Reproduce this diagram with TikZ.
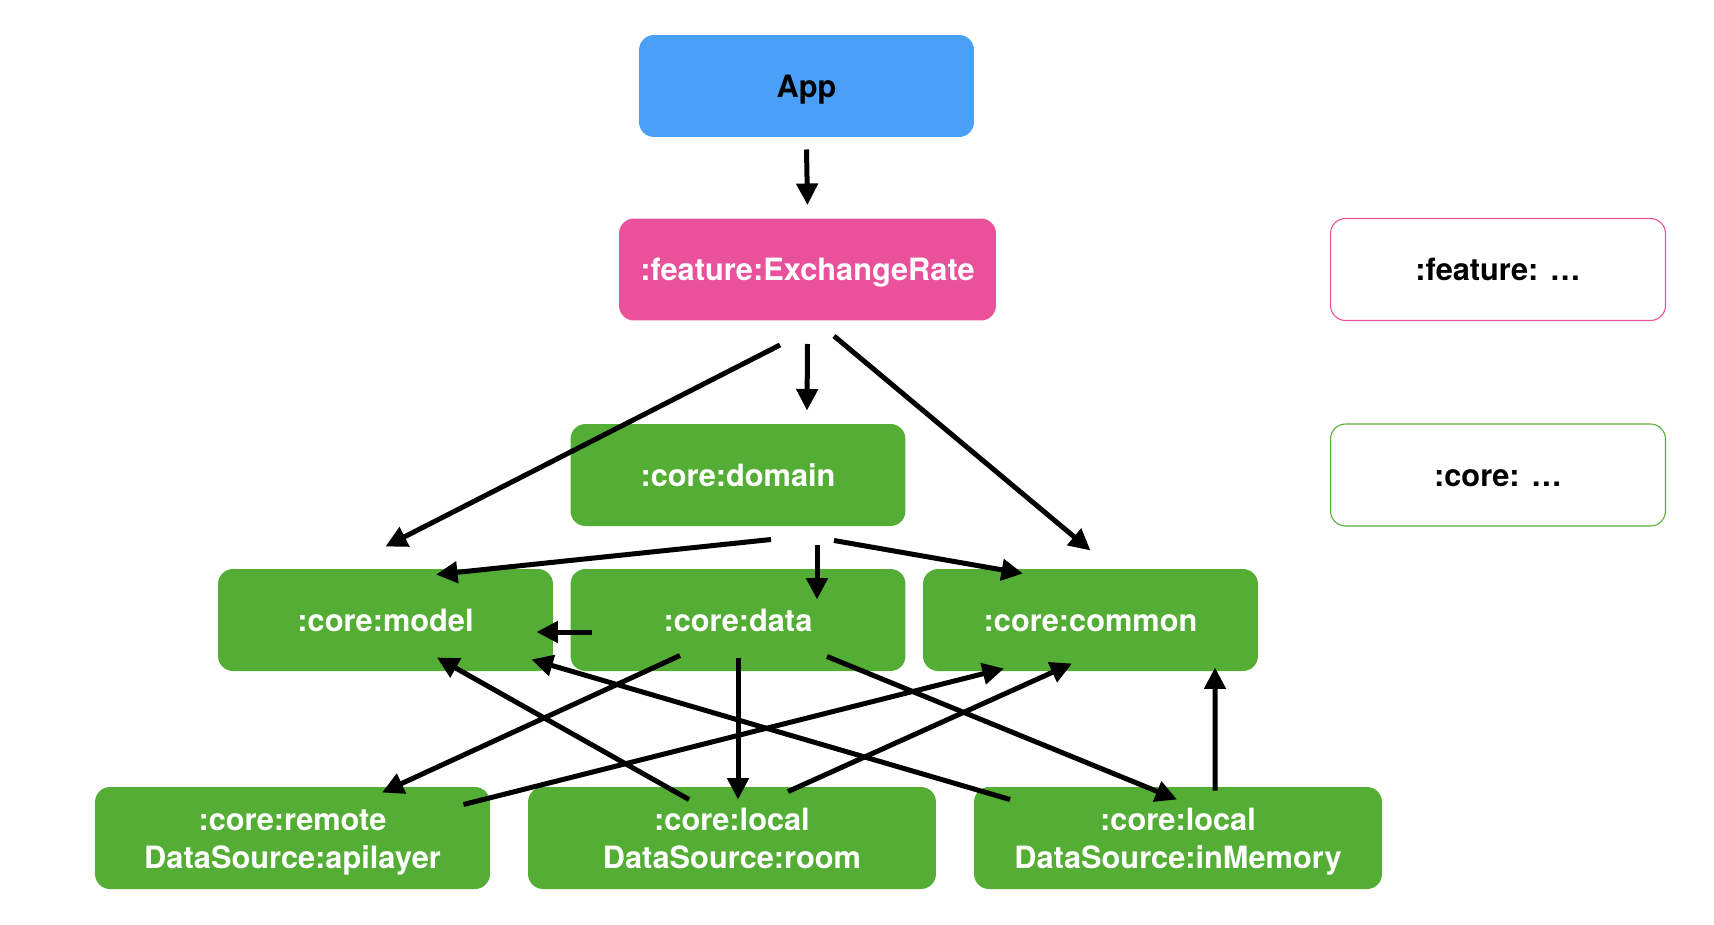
\documentclass[tikz,border=0pt]{standalone}
\usepackage{fontspec}
\setmainfont{TeX Gyre Heros}
\usepackage{tikz}
\usetikzlibrary{arrows.meta,positioning}
\definecolor{appblue}{RGB}{74,159,247}
\definecolor{featpink}{RGB}{233,82,155}
\definecolor{coregreen}{RGB}{84,173,52}
\newcommand{\boxstrut}{\rule[-6.5pt]{0pt}{26pt}}
\newcommand{\boxtopstrut}{\rule{0pt}{19.5pt}}
\tikzset{box/.style={rectangle,rounded corners=0.3cm,minimum width=6.7cm,minimum height=2.04cm,inner sep=0pt,align=center,font=\fontsize{17.5}{22}\selectfont\bfseries,execute at begin node=\boxstrut,execute at end node=\boxstrut}}

\begin{document}
\begin{tikzpicture}[x=0.02cm, y=-0.02cm, >={Triangle[length=0.43cm,width=0.42cm]}, line width=0.1cm]
\tikzstyle{app}=[box,fill=appblue,text=black]
\tikzstyle{feat}=[box,fill=featpink,text=white]
\tikzstyle{core}=[box,fill=coregreen,text=white]
\tikzstyle{legend}=[box,fill=white,text=black,line width=0.6pt]
    \useasboundingbox (0,0) rectangle (1714,924);

    \node[app] (App) at (806.5,86) {App};
    \node[feat,minimum width=7.54cm] (Feat) at (807.5,269.5) {:feature:ExchangeRate};
    \node[core] (Domain) at (738,475) {:core:domain};
    \node[core] (Model) at (385.5,620) {:core:model};
    \node[core] (Data) at (738,620) {:core:data};
    \node[core] (Common) at (1090.5,620) {:core:common};
    \node[core,minimum width=7.9cm] (Remote) at (292.5,838) {:core:remote\boxtopstrut\\DataSource:apilayer};
    \node[core,minimum width=8.16cm] (Room) at (732,838) {:core:local\boxtopstrut\\DataSource:room};
    \node[core,minimum width=8.16cm] (Mem) at (1178,838) {:core:local\boxtopstrut\\DataSource:inMemory};
    \node[legend,draw=featpink] (LegFeat) at (1498,269.5) {:feature: \dots};
    \node[legend,draw=coregreen] (LegCore) at (1498,475) {:core: \dots};

    \path[->] ([shift={(0,10)}]App.south) edge ([shift={(0,-11)}]Feat.north);
    \path[->] ([shift={(0,21)}]Feat.south) edge ([shift={(69,-11)}]Domain.north);
    \path[->] ([shift={(-27.5,22)}]Feat.south) edge ([shift={(0,-20)}]Model.north);
    \path[->] ([shift={(26.5,13)}]Feat.south) edge ([shift={(0,-16)}]Common.north);
    \path[->] ([shift={(33,11)}]Domain.south) edge ([shift={(50.5,8)}]Model.north);
    \path[->] ([shift={(79,16)}]Domain.south) edge ([shift={(79,33)}]Data.north);
    \path[->] ([shift={(96,12)}]Domain.south) edge ([shift={(-67.5,7)}]Common.north);
    \path[->] ([shift={(24,12)}]Data.west) edge ([shift={(-19,12)}]Model.east);
    \path[->] ([shift={(-58,-18)}]Data.south) edge ([shift={(89.5,8)}]Remote.north);
    \path[->] ([shift={(0,-16)}]Data.south) edge ([shift={(6,15)}]Room.north);
    \path[->] ([shift={(89,-17)}]Data.south) edge ([shift={(-1,15)}]Mem.north);
    \path[->] ([shift={(-43,15)}]Room.north) edge ([shift={(51.5,-16)}]Model.south);
    \path[->] ([shift={(-168,15)}]Mem.north) edge ([shift={(-24,-14)}]Model.south east);
    \path[->] ([shift={(-29,20)}]Remote.north east) edge ([shift={(-86.5,-5)}]Common.south);
    \path[->] ([shift={(56,7)}]Room.north) edge ([shift={(-18.5,-10)}]Common.south);
    \path[->] ([shift={(37,6)}]Mem.north) edge ([shift={(124.5,-6)}]Common.south);
\end{tikzpicture}
\end{document}
